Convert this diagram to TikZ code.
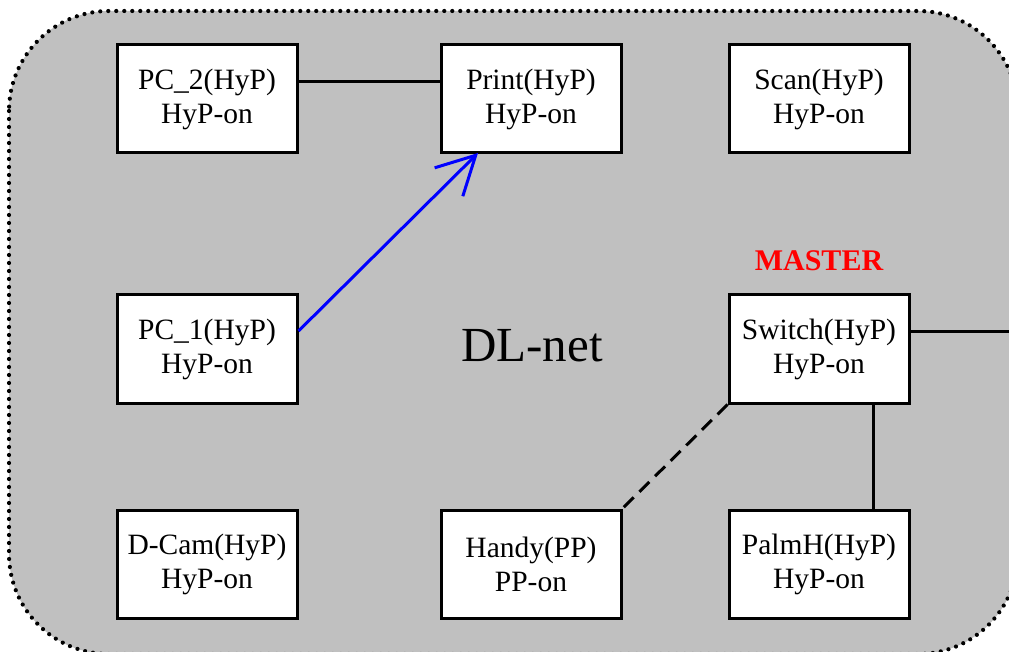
\documentclass[tikz,border=0pt]{standalone}
\usepackage{fontspec}
\setmainfont{Liberation Serif}
\usetikzlibrary{arrows.meta}
\definecolor{netgray}{RGB}{192,192,192}
\tikzset{
  dev/.style={draw=black, line width=3pt, fill=white, minimum width=180pt, minimum height=108pt,
    align=center, inner sep=0pt, font=\fontsize{29.5}{34}\selectfont},
  link/.style={draw=black, line width=3pt},
}
\begin{document}
\begin{tikzpicture}[x=1pt,y=-1pt]
\useasboundingbox (0,0) rectangle (1009,652);
\begin{scope}
\clip (0,0) rectangle (1009,652);
\path[fill=netgray, draw=black, line width=4.2pt, line cap=round, dash pattern=on 0pt off 8pt, rounded corners=100pt]
  (9,11) rectangle (1018,654);
\end{scope}
\node[dev] (pc2) at (207,99) {PC\_2(HyP)\\HyP-on};
\node[dev] (print) at (531,99) {Print(HyP)\\HyP-on};
\node[dev] (scan) at (819,99) {Scan(HyP)\\HyP-on};
\node[dev] (pc1) at (207,349) {PC\_1(HyP)\\HyP-on};
\node[dev] (switch) at (819,349) {Switch(HyP)\\HyP-on};
\node[dev] (dcam) at (207,564) {D-Cam(HyP)\\HyP-on};
\node[dev] (handy) at (531,564) {Handy(PP)\\PP-on};
\node[dev] (palm) at (819,564) {PalmH(HyP)\\HyP-on};
\node[font=\fontsize{30}{34}\selectfont\bfseries, text=red] (master) at (819,261) {MASTER};
\node[font=\fontsize{49}{56}\selectfont] (dlnet) at (532,346) {DL-net};
\coordinate (out) at (1012,331);
\coordinate (pa) at (pc1.east |- 0,331);
\coordinate (pb) at (478,153);
\draw[link] (pc2.east |- 0,82) -- (print.west |- 0,82);
\draw[draw=blue, line width=3pt, -{Straight Barb[length=38pt, width=40pt, line width=3pt]}] (pa) -- (pb);
\draw[link] (switch.east |- out) -- (out);
\draw[link] (switch.south -| 873,0) -- (palm.north -| 873,0);
\draw[link, dash pattern=on 14pt off 8pt] (switch.south west) -- (handy.north east);
\end{tikzpicture}
\end{document}
